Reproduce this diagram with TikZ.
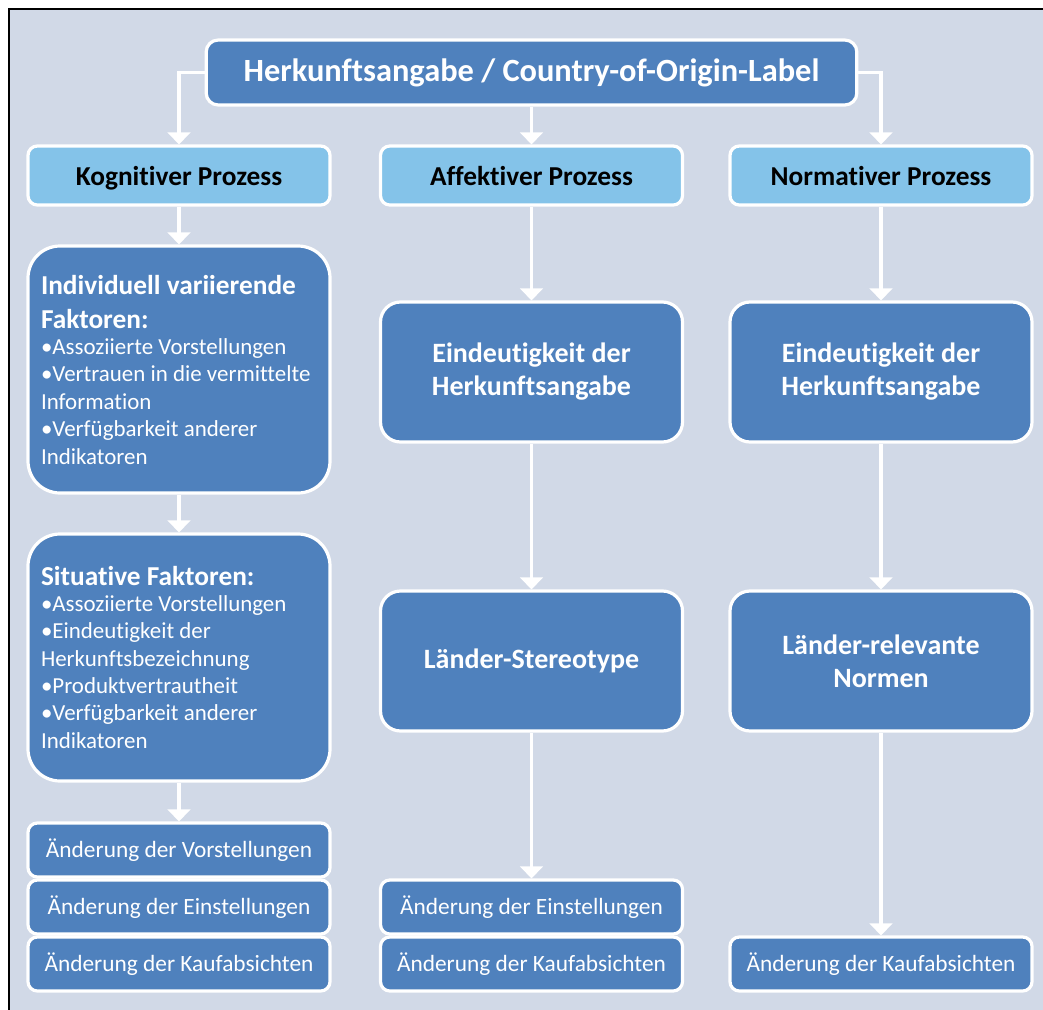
\documentclass[tikz,border=0pt]{standalone}
\usepackage{fontspec}
\setmainfont{Carlito}[Ligatures=NoCommon]
\usetikzlibrary{arrows.meta,positioning}
\definecolor{pagebg}{HTML}{D1D9E7}
\definecolor{darkbox}{HTML}{4F81BD}
\definecolor{lightbox}{HTML}{84C3E9}
\tikzset{
  base/.style={draw=white, line width=2.4pt, align=flush center, inner sep=0pt},
  titlebox/.style={base, fill=darkbox, text=white, rounded corners=9pt,
    minimum width=488pt, minimum height=48.75pt, font=\bfseries\fontsize{24.3}{29}\selectfont},
  procbox/.style={base, fill=lightbox, text=black, rounded corners=7pt,
    minimum width=226.5pt, minimum height=44.25pt, text height=14.4pt, text depth=0pt,
    font=\bfseries\fontsize{20.5}{24}\selectfont},
  factorbox/.style={base, fill=darkbox, text=white, rounded corners=24pt,
    minimum width=226.5pt, minimum height=185.25pt, align=flush left,
    text width=207pt, font=\fontsize{17.2}{20.6}\selectfont},
  midbox/.style={base, fill=darkbox, text=white, rounded corners=15pt,
    minimum width=226.5pt, minimum height=105pt, font=\bfseries\fontsize{21}{24.75}\selectfont},
  changebox/.style={base, fill=darkbox, text=white, rounded corners=7pt,
    minimum width=226.5pt, minimum height=40.5pt, font=\fontsize{17.5}{21}\selectfont},
  flow/.style={draw=white, line width=2.4pt,
    -{Triangle[width=17pt, length=9pt]}},
}
\newcommand{\factorhead}[1]{{\bfseries\fontsize{20.5}{26}\selectfont #1\par}\vspace{-1.5pt}}
\begin{document}
\begin{tikzpicture}[x=0.75pt, y=-0.75pt]
\useasboundingbox (0,0) rectangle (1043,1010);
\clip (0,0) rectangle (1043,1010);
% panel background and its frame
\fill[white] (0,0) rectangle (1043,1010);
\fill[pagebg] (9,9) rectangle (1060,1030);
\draw[black, line width=1.6pt] (9,1030) -- (9,9) -- (1060,9);

% title
\node[titlebox] (top) at (531.5,72.5) {Herkunftsangabe / Country-of-Origin-Label};

% process headers
\node[procbox] (kog) at (179,175.5) {Kognitiver Prozess};
\node[procbox] (aff) at (531.5,175.5) {Affektiver Prozess};
\node[procbox] (nor) at (881,175.5) {Normativer Prozess};

% cognitive column
\node[factorbox] (ind) at (179,369.5) {\factorhead{Individuell variierende\\Faktoren:}
  •Assoziierte Vorstellungen\\
  •Vertrauen in die vermittelte\\Information\\
  •Verfügbarkeit anderer\\Indikatoren};
\node[factorbox] (sit) at (179,657.5) {\factorhead{Situative Faktoren:}
  •Assoziierte Vorstellungen\\
  •Eindeutigkeit der\\Herkunftsbezeichnung\\
  •Produktvertrautheit\\
  •Verfügbarkeit anderer\\Indikatoren};
\node[changebox] (kv) at (179,850) {Änderung der Vorstellungen};
\node[changebox] (ke) at (179,907) {Änderung der Einstellungen};
\node[changebox] (kk) at (179,964) {Änderung der Kaufabsichten};

% affective column
\node[midbox] (ae) at (531.5,372) {Eindeutigkeit der\\Herkunftsangabe};
\node[midbox] (as) at (531.5,661) {Länder-Stereotype};
\node[changebox] (aen) at (531.5,907) {Änderung der Einstellungen};
\node[changebox] (ak) at (531.5,964) {Änderung der Kaufabsichten};

% normative column
\node[midbox] (ne) at (881,372) {Eindeutigkeit der\\Herkunftsangabe};
\node[midbox] (nn) at (881,661) {Länder-relevante\\Normen};
\node[changebox] (nk) at (881,964) {Änderung der Kaufabsichten};

% connectors
\draw[flow] (top.west) -| (kog.north);
\draw[flow] (top.south) -- (aff.north);
\draw[flow] (top.east) -| (nor.north);
\draw[flow] (kog) -- (ind);
\draw[flow] (ind) -- (sit);
\draw[flow] (sit) -- (kv);
\draw[flow] (aff) -- (ae);
\draw[flow] (ae) -- (as);
\draw[flow] (as) -- (aen);
\draw[flow] (nor) -- (ne);
\draw[flow] (ne) -- (nn);
\draw[flow] (nn) -- (nk);
\end{tikzpicture}
\end{document}
